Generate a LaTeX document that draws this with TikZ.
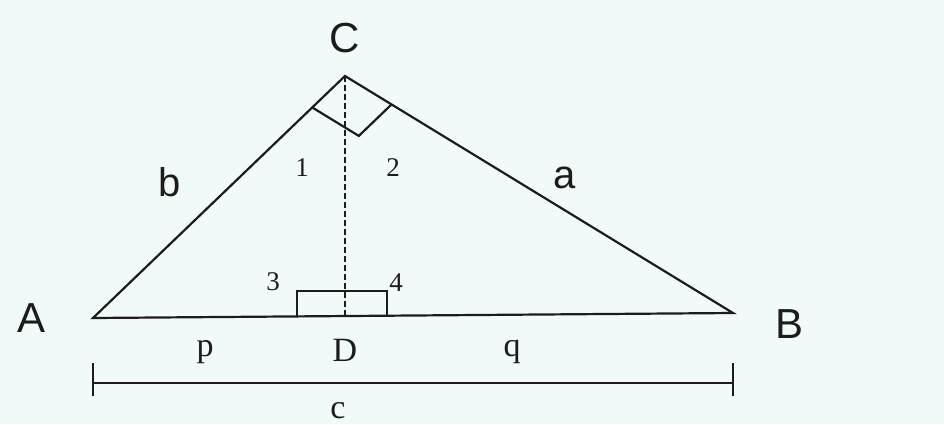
\documentclass[tikz,border=0pt]{standalone}
\usepackage{fontspec}
\setmainfont{Liberation Serif}
\newfontfamily\lblsans{Liberation Sans}
\usetikzlibrary{calc}
\definecolor{scanbg}{HTML}{F1F9F9}
\definecolor{inkdark}{HTML}{1C1C1C}

\begin{document}
\begin{tikzpicture}[
    x=0.5pt, y=-0.5pt,
    line width=1.1pt, draw=inkdark,
    vtx/.style={font=\lblsans\fontsize{21}{24}\selectfont, text=inkdark},
    side/.style={font=\lblsans\fontsize{20}{24}\selectfont, text=inkdark},
    ang/.style={font=\fontsize{13.5}{15}\selectfont, text=inkdark},
    seg/.style={font=\fontsize{17}{19}\selectfont, text=inkdark},
  ]
    \fill[scanbg] (0,0) rectangle (944,424);
    \useasboundingbox (0,0) rectangle (944,424);
    % vertices
    \coordinate (A) at (93,318);
    \coordinate (B) at (733,313);
    \coordinate (C) at (345,76);
    \coordinate (D) at (345,316);
    % triangle
    \draw[inkdark] (A) -- (C) -- (B) -- cycle;
    % altitude
    \draw[inkdark, line width=0.9pt, dash pattern=on 3pt off 1.5pt] (C) -- (D);
    % right angle at C
    \coordinate (Ca) at ($(C)!0.13!(A)$);
    \coordinate (Cb) at ($(C)!0.12!(B)$);
    \draw[inkdark] (Ca) -- ($(Ca)+(Cb)-(C)$) -- (Cb);
    % right angle mark at D
    \coordinate (Dl) at (297,317);
    \coordinate (Dr) at (387,315);
    \draw[inkdark] (Dl) -- (297,291) -- (387,291) -- (Dr);
    % dimension line
    \coordinate (cL) at (93,383);
    \coordinate (cR) at (733,383);
    \draw[inkdark] (cL) -- (cR);
    \draw[inkdark] ($(cL)+(0,-20)$) -- ($(cL)+(0,13)$);
    \draw[inkdark] ($(cR)+(0,-20)$) -- ($(cR)+(0,13)$);
    % labels
    \node[vtx] (lA) at (32,318) {A};
    \node[vtx] (lB) at (790,324) {B};
    \node[vtx] (lC) at (345,38) {C};
    \node[side] (lb) at (170,182) {b};
    \node[side] (la) at (565,178) {a};
    \node[ang] (l1) at (302,168) {1};
    \node[ang] (l2) at (393,168) {2};
    \node[ang] (l3) at (273,282) {3};
    \node[ang] (l4) at (396,283) {4};
    \node[seg] (lp) at (205,352) {p};
    \node[seg] (lD) at (345,350) {D};
    \node[seg] (lq) at (512,352) {q};
    \node[seg, inner sep=0pt, anchor=base] (lc) at (338,418) {c};
  \end{tikzpicture}
\end{document}
